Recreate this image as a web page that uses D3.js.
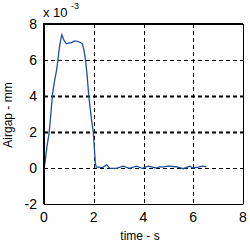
<!DOCTYPE html>
<meta charset="utf-8">
<style>
body { margin: 0; background: #fff; }
text { font-family: "Liberation Sans", Arial, sans-serif; fill: #000; }
</style>
<body>
<script src="https://cdn.jsdelivr.net/npm/d3@7"></script>
<script>
// time in seconds, airgap in mm (x10^-3)
var time = [0, 0.05, 0.12, 0.2, 0.25, 0.3, 0.35, 0.42, 0.5, 0.56, 0.62, 0.68, 0.72, 0.78, 0.85, 0.91, 1.0, 1.1, 1.2, 1.31, 1.42, 1.54, 1.6, 1.67, 1.73, 1.8, 1.9, 1.98, 2.03, 2.06, 2.1, 2.2, 2.35, 2.52, 2.65, 2.9, 3.19, 3.43, 3.72, 3.95, 4.19, 4.52, 4.66, 4.72, 4.99, 5.3, 5.6, 5.86, 6.0, 6.2, 6.37, 6.53];
var airgap = [0, 0.4, 1.2, 1.9, 2.6, 3.4, 4.2, 4.8, 5.4, 6.0, 6.7, 7.2, 7.4, 7.15, 7.0, 6.9, 6.95, 6.95, 7.05, 7.05, 7.0, 6.9, 6.6, 6.0, 5.2, 4.0, 2.8, 2.0, 1.0, 0.3, 0.05, 0.05, 0.02, 0.18, -0.02, -0.02, 0.1, -0.02, 0.1, -0.02, 0.1, 0.0, 0.07, 0.05, 0.1, 0.07, -0.04, 0.1, 0.0, 0.05, 0.1, 0.07];
var xTicks = [0, 2, 4, 6, 8];
var yTicks = [-2, 0, 2, 4, 6, 8];
var boldGrid = [2, 4];

var width = 250, height = 246;
var x = d3.scaleLinear().domain([0, 8]).range([44, 243]);
var y = d3.scaleLinear().domain([-2, 8]).range([204, 24]);

var svg = d3.select("body").append("svg")
    .attr("width", width)
    .attr("height", height);

// grid
svg.append("g").selectAll("line")
    .data(xTicks.slice(1, -1))
    .enter().append("line")
    .attr("x1", function(d) { return Math.round(x(d)) + 0.5; })
    .attr("x2", function(d) { return Math.round(x(d)) + 0.5; })
    .attr("y1", y(8)).attr("y2", y(-2))
    .attr("stroke", "#000").attr("stroke-width", 1)
    .attr("stroke-dasharray", "4,3");

svg.append("g").selectAll("line")
    .data(yTicks.slice(1, -1))
    .enter().append("line")
    .attr("y1", function(d) { return Math.round(y(d)) + 0.5; })
    .attr("y2", function(d) { return Math.round(y(d)) + 0.5; })
    .attr("x1", x(0)).attr("x2", x(8))
    .attr("stroke", "#000")
    .attr("stroke-width", function(d) { return boldGrid.indexOf(d) >= 0 ? 2 : 1; })
    .attr("stroke-dasharray", "4,3");

// data line
var line = d3.line()
    .x(function(d, i) { return x(time[i]); })
    .y(function(d) { return y(d); });

svg.append("path")
    .datum(airgap)
    .attr("d", line)
    .attr("fill", "none")
    .attr("stroke", "#1f4f9c")
    .attr("stroke-width", 1.3);

// box
svg.append("line").attr("x1", x(0)).attr("x2", x(8)).attr("y1", y(8)).attr("y2", y(8))
    .attr("stroke", "#000").attr("stroke-width", 2);
svg.append("line").attr("x1", x(0)).attr("x2", x(0)).attr("y1", y(8) - 1).attr("y2", y(-2))
    .attr("stroke", "#000").attr("stroke-width", 2);
svg.append("line").attr("x1", x(0)).attr("x2", x(8) + 0.5).attr("y1", y(-2) + 0.5).attr("y2", y(-2) + 0.5)
    .attr("stroke", "#000").attr("stroke-width", 1);
svg.append("line").attr("x1", x(8) + 0.5).attr("x2", x(8) + 0.5).attr("y1", y(8)).attr("y2", y(-2))
    .attr("stroke", "#000").attr("stroke-width", 1);

// tick labels
svg.append("g").selectAll("text")
    .data(xTicks)
    .enter().append("text")
    .attr("x", function(d) { return x(d); })
    .attr("y", 222)
    .attr("text-anchor", "middle")
    .style("font-size", "14px")
    .text(String);

svg.append("g").selectAll("text")
    .data(yTicks)
    .enter().append("text")
    .attr("x", 37)
    .attr("y", function(d) { return y(d) + 5; })
    .attr("text-anchor", "end")
    .style("font-size", "14px")
    .text(String);

// exponent
svg.append("text").attr("x", 43).attr("y", 17).style("font-size", "13px").text("x 10");
svg.append("text").attr("x", 71).attr("y", 9).style("font-size", "9px").text("-3");

// axis labels
svg.append("text")
    .attr("x", 140).attr("y", 240)
    .attr("text-anchor", "middle")
    .style("font-size", "12px")
    .text("time - s");

svg.append("text")
    .attr("transform", "translate(12,115) rotate(-90)")
    .attr("text-anchor", "middle")
    .style("font-size", "12px")
    .text("Airgap - mm");
</script>
